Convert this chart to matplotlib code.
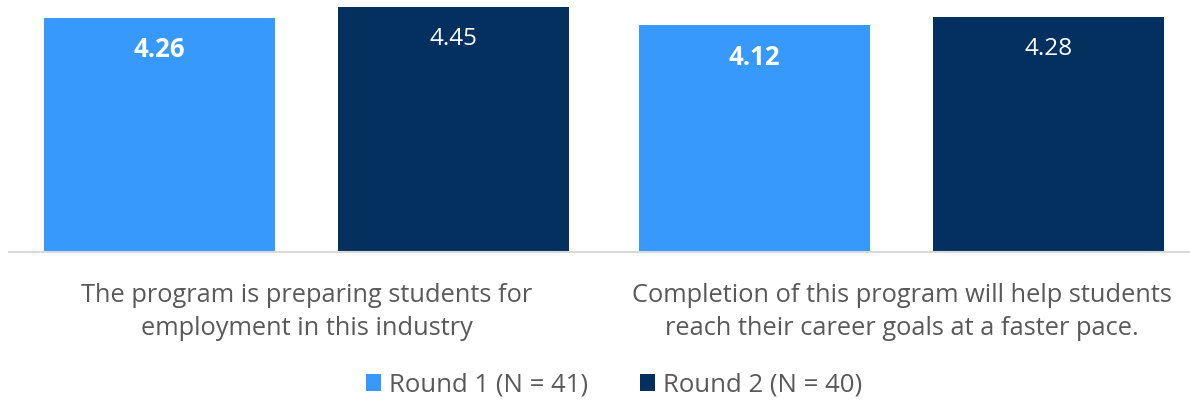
import matplotlib
matplotlib.use("Agg")
import matplotlib.pyplot as plt
import numpy as np

categories = [
    "The program is preparing students for\nemployment in this industry",
    "Completion of this program will help students\nreach their career goals at a faster pace.",
]
series_names = ["Round 1 (N = 41)", "Round 2 (N = 40)"]
round1 = [4.26, 4.12]
round2 = [4.45, 4.28]
colors = ["#3899FC", "#03305F"]
label_weights = ["bold", "normal"]
label_sizes = [18.5, 17.5]

plt.rcParams["font.family"] = ["Open Sans", "DejaVu Sans"]

W, H = 1190, 400
fig = plt.figure(figsize=(W / 100, H / 100), dpi=100)
ax = fig.add_axes([9 / W, 148 / H, 1190 / W, 252 / H])

x = np.arange(len(categories))
width = 0.388
offset = 0.247
bars = []
for i, (vals, c, w, fs) in enumerate(zip([round1, round2], colors, label_weights, label_sizes)):
    pos = x + (offset if i else -offset)
    b = ax.bar(pos, vals, width, color=c, label=series_names[i], zorder=2)
    bars.append(b)
    for xi, v in zip(pos, vals):
        ax.annotate(f"{v:.2f}", xy=(xi, v), xytext=(0, -32), textcoords="offset pixels",
                    ha="center", va="center", color="white", fontsize=fs, fontweight=w)

ax.set_xlim(-0.5, 1.5)
ax.set_ylim(0, 252 / 55)
ax.set_xticks(x)
ax.set_xticklabels(categories, fontsize=18.3, color="#595959", linespacing=1.45)
ax.tick_params(axis="x", length=0, pad=22)
ax.set_yticks([])
for s in ["top", "right", "left"]:
    ax.spines[s].set_visible(False)
ax.spines["bottom"].set_color("#D9D9D9")
ax.spines["bottom"].set_linewidth(1.5)

fig.legend(handles=bars, labels=series_names, loc="center", bbox_to_anchor=(614 / W, 1 - 385 / H),
           ncol=2, frameon=False, fontsize=18.5, labelcolor="#595959", handlelength=0.6, handleheight=0.6,
           handletextpad=0.3, columnspacing=2.0)

fig.savefig("out.png", dpi=100)
